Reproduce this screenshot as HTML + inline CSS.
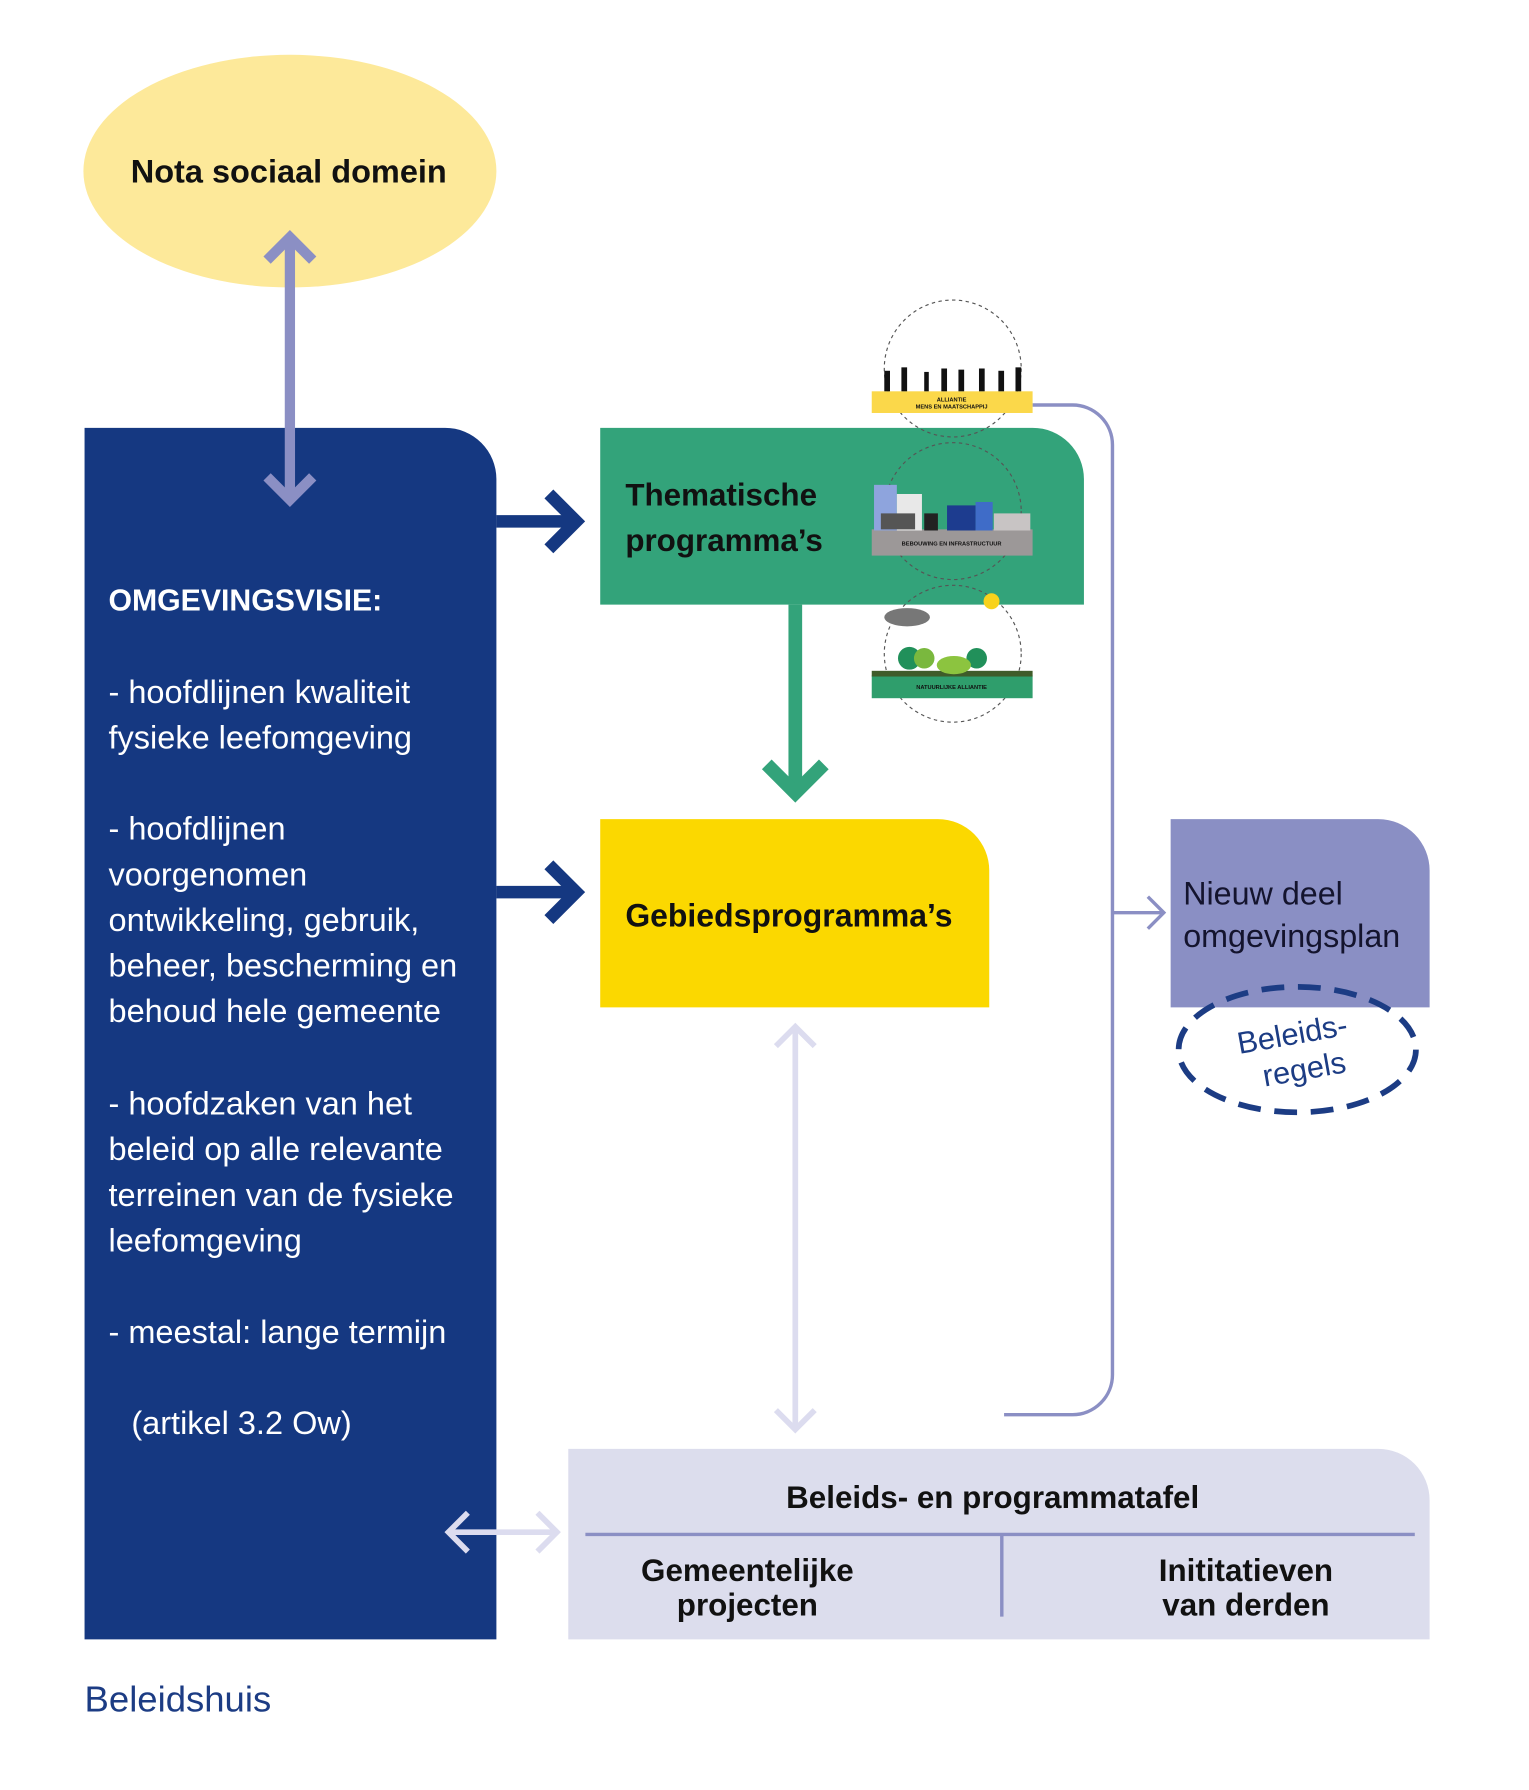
<!DOCTYPE html>
<html><head><meta charset="utf-8"><style>
html,body{margin:0;padding:0;background:#fff;}
svg{display:block;}
text{font-family:"Liberation Sans",sans-serif;}
</style></head><body>
<svg width="1529" height="1790" viewBox="0 0 1340 1569" xmlns="http://www.w3.org/2000/svg">
<rect width="1340" height="1569" fill="#fff"/>
<ellipse cx="254" cy="150" rx="181" ry="102" fill="#fde99a"/>
<text x="253" y="160" font-size="28.5" font-weight="bold" text-anchor="middle" fill="#111">Nota sociaal domein</text>
<path d="M74 375 H390 A45 45 0 0 1 435 420 V1437 H74 Z" fill="#153881"/>
<g stroke="#8b8fc4" stroke-width="9" fill="none">
<line x1="254" y1="210" x2="254" y2="436"/>
<polyline points="234,228 254,208 274,228"/>
<polyline points="234,418 254,438 274,418"/>
</g>
<g fill="#fff" font-size="28.5">
<text x="95" y="535" font-weight="bold" font-size="26.5">OMGEVINGSVISIE:</text>
<text x="95" y="616">- hoofdlijnen kwaliteit</text>
<text x="95" y="656">fysieke leefomgeving</text>
<text x="95" y="736">- hoofdlijnen</text>
<text x="95" y="776">voorgenomen</text>
<text x="95" y="816">ontwikkeling, gebruik,</text>
<text x="95" y="856">beheer, bescherming en</text>
<text x="95" y="896">behoud hele gemeente</text>
<text x="95" y="977">- hoofdzaken van het</text>
<text x="95" y="1017">beleid op alle relevante</text>
<text x="95" y="1057">terreinen van de fysieke</text>
<text x="95" y="1097">leefomgeving</text>
<text x="95" y="1177">- meestal: lange termijn</text>
<text x="115" y="1257">(artikel 3.2 Ow)</text>
</g>
<g stroke="#153881" stroke-width="11" fill="none">
<line x1="435" y1="457" x2="505" y2="457"/><polyline points="481,433 505,457 481,481"/>
<line x1="435" y1="782" x2="505" y2="782"/><polyline points="481,758 505,782 481,806"/>
</g>
<path d="M526 375 H905 A45 45 0 0 1 950 420 V530 H526 Z" fill="#33a37a"/>
<text x="548" y="443" font-size="27.5" font-weight="bold" fill="#111">Thematische</text>
<text x="548" y="483" font-size="27.5" font-weight="bold" fill="#111">programma’s</text>
<g stroke="#33a37a" stroke-width="12" fill="none">
<line x1="697" y1="530" x2="697" y2="694"/><polyline points="672,670 697,695 722,670"/>
</g>
<path d="M526 718 H822 A45 45 0 0 1 867 763 V883 H526 Z" fill="#fbd800"/>
<text x="548" y="812" font-size="28" font-weight="bold" fill="#111">Gebiedsprogramma’s</text>
<g stroke="#dcdcef" stroke-width="5" fill="none">
<line x1="697" y1="900" x2="697" y2="1253"/>
<polyline points="680,917 697,900 714,917"/>
<polyline points="680,1236 697,1253 714,1236"/>
<line x1="393" y1="1343" x2="488" y2="1343"/>
<polyline points="410,1326 393,1343 410,1360"/>
<polyline points="471,1326 488,1343 471,1360"/>
</g>
<path d="M498 1270 H1208 A45 45 0 0 1 1253 1315 V1437 H498 Z" fill="#dcdded"/>
<text x="870" y="1322" font-size="27.5" font-weight="bold" text-anchor="middle" fill="#111">Beleids- en programmatafel</text>
<line x1="513" y1="1345" x2="1240" y2="1345" stroke="#8b8fc4" stroke-width="3"/>
<line x1="878" y1="1345" x2="878" y2="1417" stroke="#8b8fc4" stroke-width="3"/>
<g font-size="27.5" font-weight="bold" text-anchor="middle" fill="#111">
<text x="655" y="1386">Gemeentelijke</text><text x="655" y="1416">projecten</text>
<text x="1092" y="1386">Inititatieven</text><text x="1092" y="1416">van derden</text>
</g>
<g stroke="#8b8fc4" stroke-width="3" fill="none">
<path d="M905 355 H940 A35 35 0 0 1 975 390 V1205 A35 35 0 0 1 940 1240 H880"/>
<line x1="975" y1="800" x2="1020" y2="800"/>
<polyline points="1006,786 1020,800 1006,814"/>
</g>
<path d="M1026 718 H1208 A45 45 0 0 1 1253 763 V883 H1026 Z" fill="#8a8fc4"/>
<text x="1037" y="793" font-size="28.3" fill="#14142e">Nieuw deel</text>
<text x="1037" y="830" font-size="28.3" fill="#14142e">omgevingsplan</text>
<ellipse cx="1137" cy="920" rx="104" ry="55" fill="none" stroke="#1c3c84" stroke-width="5" stroke-dasharray="20 12"/>
<g transform="rotate(-10 1137 920)" fill="#1c3c84" font-size="27" text-anchor="middle">
<text x="1135" y="915">Beleids-</text><text x="1140" y="947">regels</text>
</g>
<text x="74" y="1500" font-size="32" fill="#1c3c84">Beleidshuis</text>
<g fill="none" stroke="#555" stroke-width="1" stroke-dasharray="3 3">
<circle cx="835" cy="323" r="60"/><circle cx="835" cy="448" r="60"/><circle cx="835" cy="573" r="60"/>
</g>
<rect x="764" y="343" width="141" height="19" fill="#fbd84a"/>
<g fill="#111">
<rect x="775" y="325" width="5" height="18"/><rect x="790" y="322" width="5" height="21"/><rect x="810" y="326" width="4" height="17"/><rect x="825" y="323" width="5" height="20"/><rect x="840" y="324" width="5" height="19"/><rect x="858" y="323" width="5" height="20"/><rect x="875" y="325" width="5" height="18"/><rect x="890" y="322" width="5" height="21"/>
</g>
<text x="834" y="352" font-size="5" font-weight="bold" text-anchor="middle" fill="#111">ALLIANTIE</text>
<text x="834" y="358" font-size="5" font-weight="bold" text-anchor="middle" fill="#111">MENS EN MAATSCHAPPIJ</text>
<rect x="764" y="464" width="141" height="23" fill="#9c9898"/>
<rect x="766" y="425" width="20" height="40" fill="#8ea4dd"/>
<rect x="786" y="433" width="22" height="32" fill="#e8e8e8"/>
<rect x="772" y="450" width="30" height="14" fill="#555"/>
<rect x="810" y="450" width="12" height="15" fill="#222"/>
<rect x="830" y="443" width="25" height="22" fill="#1d3c8f"/>
<rect x="855" y="440" width="15" height="25" fill="#3f6cc8"/>
<rect x="871" y="450" width="32" height="15" fill="#c8c4c4"/>
<text x="834" y="478" font-size="5" font-weight="bold" text-anchor="middle" fill="#111">BEBOUWING EN INFRASTRUCTUUR</text>
<rect x="764" y="592" width="141" height="20" fill="#2f9e6c"/>
<rect x="764" y="588" width="141" height="5" fill="#3f5c2a"/>
<circle cx="797" cy="577" r="10" fill="#21905a"/><circle cx="810" cy="577" r="9" fill="#7ab83e"/><circle cx="856" cy="577" r="9" fill="#21905a"/>
<ellipse cx="836" cy="583" rx="15" ry="8" fill="#8cc43f"/>
<ellipse cx="795" cy="541" rx="20" ry="8" fill="#777"/>
<circle cx="869" cy="527" r="7" fill="#f8d21c"/>
<text x="834" y="604" font-size="5" font-weight="bold" text-anchor="middle" fill="#111">NATUURLIJKE ALLIANTIE</text>
</svg>
</body></html>
